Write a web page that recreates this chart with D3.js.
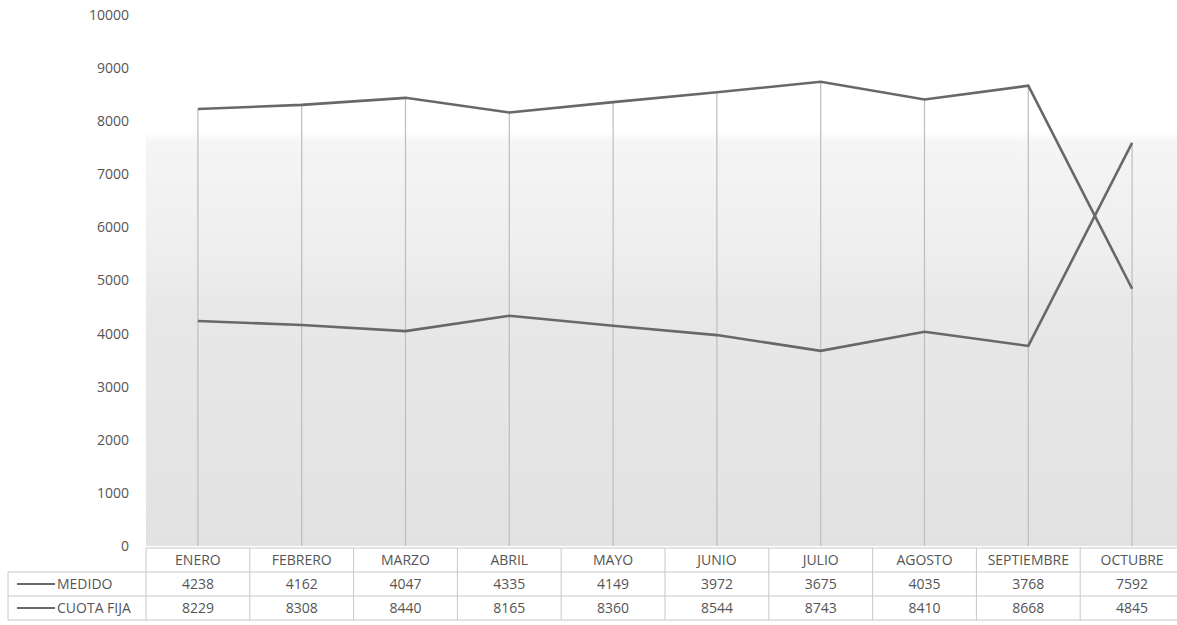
<!DOCTYPE html>
<html><head><meta charset="utf-8">
<script src="https://cdn.jsdelivr.net/npm/d3@7"></script>
<style>
html,body{margin:0;padding:0;background:#fff;}
svg{display:block;font-family:Calibri,Carlito,"Open Sans","Liberation Sans",sans-serif;}
</style></head>
<body>
<svg id="c" width="1177" height="625"></svg>
<script>
const categories = ["ENERO","FEBRERO","MARZO","ABRIL","MAYO","JUNIO","JULIO","AGOSTO","SEPTIEMBRE","OCTUBRE"];
const seriesNames = ["MEDIDO","CUOTA FIJA"];
const legendLabels = ["MEDIDO","CUOTA FIJA"];
const medido = [4238,4162,4047,4335,4149,3972,3675,4035,3768,7592];
const cuotaFija = [8229,8308,8440,8165,8360,8544,8743,8410,8668,4845];
const yTicks = [0,1000,2000,3000,4000,5000,6000,7000,8000,9000,10000];

const svg = d3.select("#c");
const x = d3.scaleBand().domain(categories).range([146,1184]).padding(0);
const y = d3.scaleLinear().domain([0,10000]).range([546,15]);

// background gradient
const defs = svg.append("defs");
const g = defs.append("linearGradient").attr("id","bg").attr("x1",0).attr("y1",0).attr("x2",0).attr("y2",1);
g.append("stop").attr("offset","0%").attr("stop-color","#ffffff");
g.append("stop").attr("offset","22%").attr("stop-color","#ffffff");
g.append("stop").attr("offset","24%").attr("stop-color","#f5f5f5");
g.append("stop").attr("offset","45%").attr("stop-color","#eeeeee");
g.append("stop").attr("offset","55%").attr("stop-color","#e8e8e8");
g.append("stop").attr("offset","100%").attr("stop-color","#e2e2e2");
svg.append("rect").attr("x",146).attr("y",y(10000)).attr("width",1184-146).attr("height",y(0)-y(10000)).attr("fill","url(#bg)");

// y axis labels
const yAxis = d3.axisLeft(y).tickValues(yTicks).tickSize(0).tickPadding(0).tickFormat(d3.format("d"));
const ya = svg.append("g").attr("transform","translate(129,0)").call(yAxis);
ya.select(".domain").remove();
ya.selectAll("text").attr("font-size",14).attr("fill","#555").attr("font-family","'Open Sans',sans-serif");

// drop lines
const cx = c => x(c) + x.bandwidth()/2;
svg.append("g").selectAll("line").data(categories).join("line")
  .attr("x1",cx).attr("x2",cx)
  .attr("y1",(c,i)=>y(Math.max(medido[i],cuotaFija[i])))
  .attr("y2",y(0))
  .attr("stroke","#bdbdbd").attr("stroke-width",1.2);

// lines
const line = d3.line().x((d,i)=>cx(categories[i])).y(d=>y(d));
[medido,cuotaFija].forEach(s=>{
  svg.append("path").datum(s).attr("d",line).attr("fill","none")
    .attr("stroke","#686868").attr("stroke-width",2.6).attr("stroke-linejoin","miter");
});

// data table
const rowTop = 548, rowH = 24;
const tg = svg.append("g");
const bc = "#c8c8c8";
// horizontal lines
[0,1,2,3].forEach(r=>{
  const yy = rowTop + r*rowH;
  tg.append("line").attr("x1", r===0?146:8).attr("x2",1184).attr("y1",yy).attr("y2",yy).attr("stroke",bc);
});
// vertical lines
tg.append("line").attr("x1",8).attr("x2",8).attr("y1",rowTop+rowH).attr("y2",rowTop+3*rowH).attr("stroke",bc);
categories.forEach(c=>{
  tg.append("line").attr("x1",x(c)).attr("x2",x(c)).attr("y1",rowTop).attr("y2",rowTop+3*rowH).attr("stroke",bc);
});
// category labels
tg.selectAll("text.cat").data(categories).join("text").attr("class","cat")
  .attr("x",cx).attr("y",rowTop+rowH/2+5).attr("text-anchor","middle")
  .attr("font-size",14).attr("fill","#555").attr("font-family","'Open Sans',sans-serif").text(d=>d);
[medido,cuotaFija].forEach((s,r)=>{
  const yy = rowTop + (r+1)*rowH + rowH/2 + 5;
  tg.append("g").selectAll("text").data(s).join("text")
    .attr("x",(d,i)=>cx(categories[i])).attr("y",yy).attr("text-anchor","middle")
    .attr("font-size",14).attr("fill","#555").attr("font-family","'Open Sans',sans-serif").text(d=>d);
  tg.append("line").attr("x1",17).attr("x2",55).attr("y1",yy-5).attr("y2",yy-5).attr("stroke","#686868").attr("stroke-width",2);
  tg.append("text").attr("x",57).attr("y",yy).attr("font-size",14).attr("fill","#555")
    .attr("font-family","'Open Sans',sans-serif").text(legendLabels[r]);
});
</script>
</body></html>
